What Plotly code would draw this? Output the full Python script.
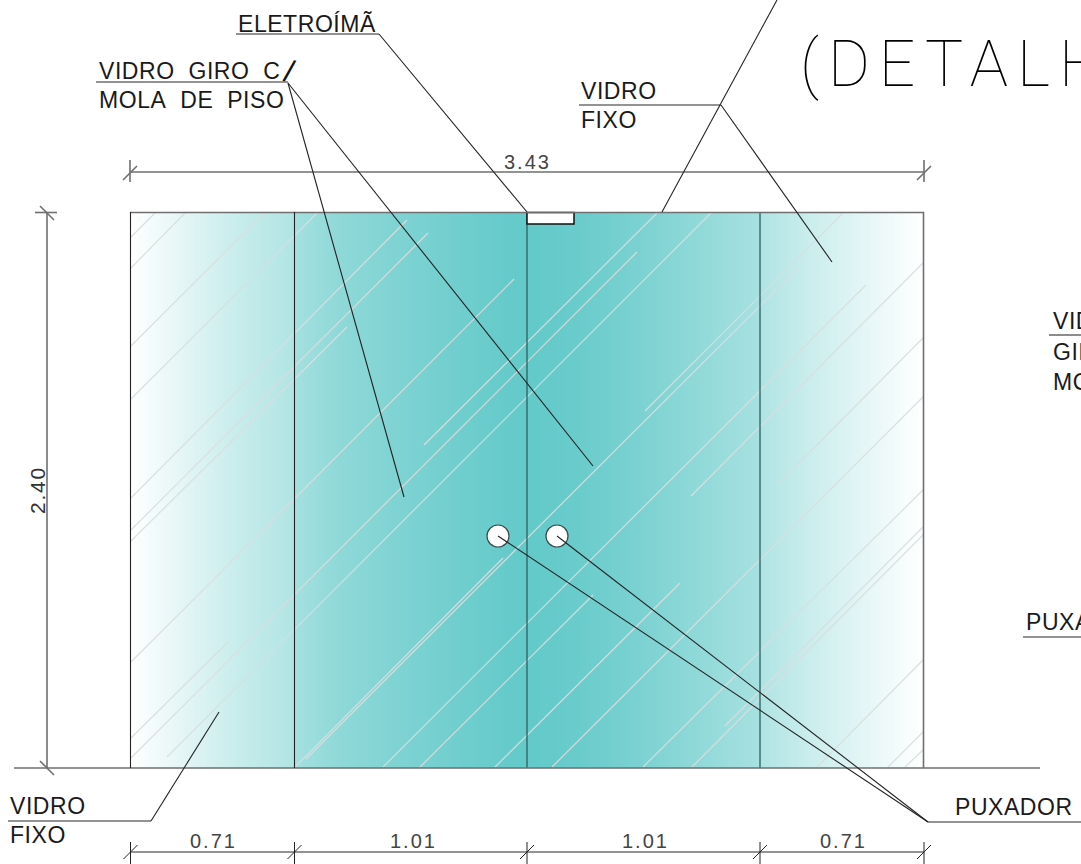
import plotly.graph_objects as go

# --- gradient of the glass (position along the elevation, tint strength)
grad_x = [129.6, 130, 150, 190, 240, 294, 295, 340, 410, 470, 527, 580, 640, 700, 759, 761, 810, 860, 900, 924, 924.4]
grad_z = [0.0, 0.0, 0.07, 0.2, 0.36, 0.5, 0.58, 0.72, 0.84, 0.93, 1.0, 0.95, 0.84, 0.7, 0.56, 0.5, 0.33, 0.18, 0.06, 0.0, 0.0]
grad_y = [212.2, 212.5, 767.5, 767.8]
GRAD_COLORS = [[0, "#ffffff"], [1, "#63c9c9"]]

# --- light hatch strokes: x0, y0, x1, y1
hatch_x0 = [131, 131, 131, 131, 131, 131, 131, 131, 131, 131, 167, 424, 295, 306, 645, 383, 420, 495, 552, 643, 725, 692, 817, 888, 905, 691, 778]
hatch_y0 = [237, 268, 346, 399, 498, 530, 541, 662, 738, 758, 757, 445, 767, 759, 411, 767, 767, 767, 767, 767, 726, 767, 767, 767, 767, 496, 484]
hatch_x1 = [155, 185, 264, 317, 407, 428, 347, 514, 228, 637, 711, 657, 503, 798, 843, 866, 593, 680, 923, 923, 923, 923, 923, 923, 923, 923, 923]
hatch_y1 = [213, 213, 213, 213, 220, 233, 327, 279, 642, 252, 213, 213, 558, 268, 213, 285, 595, 583, 397, 490, 527, 535, 660, 732, 750, 263, 338]

# --- drawing lines
gray_x0 = [130, 14, 923.5, 47, 35, 236, 96, 579, 8, 928, 1049, 1023, 130, 130, 130, 123, 917, 924, 40, 40]
gray_y0 = [212.5, 768, 212, 212, 212.5, 34, 82, 105, 821, 822, 335, 637, 172, 852, 160, 180, 180, 160, 206, 761]
gray_x1 = [924, 1040, 923.5, 47, 57, 379, 288, 721, 151, 1081, 1081, 1081, 924, 924, 130, 137, 931, 924, 54, 54]
gray_y1 = [212.5, 768, 768, 768, 212.5, 34, 82, 105, 821, 822, 335, 637, 172, 852, 182, 166, 166, 182, 220, 775]

dark_x0 = [130.5, 294.5, 379, 288, 288, 777, 721, 151, 928, 928]
dark_y0 = [212, 212, 34, 83, 83, 0, 105, 821, 822, 822]
dark_x1 = [130.5, 294.5, 527, 404, 593, 662, 832, 219, 498, 557]
dark_y1 = [768, 768, 212, 497, 466, 212, 262, 712, 536, 536]

mullion_x = [527, 760]
mullion_top = [212, 212]
mullion_bottom = [768, 768]

tick_x = [130.5, 294.5, 527, 760, 924]
tick_top = [842, 842, 842, 842, 842]
tick_bottom = [864, 864, 864, 864, 864]

magnet_x = [527, 574, 574, 527, 527]
magnet_y = [212.5, 212.5, 224, 224, 212.5]

handle_x = [498, 557]
handle_y = [536, 536]

# --- texts
label_text = ["ELETROÍMÃ", "VIDRO\u00a0\u00a0GIRO\u00a0\u00a0C", "MOLA\u00a0\u00a0DE\u00a0\u00a0PISO", "VIDRO", "FIXO",
              "VIDRO", "FIXO", "PUXADOR", "VID", "GIR", "MO", "PUXA"]
label_x = [237, 98, 98, 580, 580, 9, 9, 954, 1052, 1052, 1052, 1025]
label_y = [24, 71, 100, 91, 120, 806, 835, 807, 321, 352, 382, 622]

dim_text = ["3.43", "0.71", "1.01", "1.01", "0.71"]
dim_x = [503, 189, 389, 621, 819]
dim_y = [161.5, 841, 841, 841, 841]

title_text = "(DETALH"
FONT = "Liberation Sans"

fig = go.Figure()
z_rows = [grad_z for _ in grad_y]
fig.add_trace(go.Heatmap(x=grad_x, y=grad_y, z=z_rows, zmin=0, zmax=1, zsmooth="best",
                         colorscale=GRAD_COLORS, showscale=False, hoverinfo="skip"))


def segs(x0, y0, x1, y1):
    xs, ys = [], []
    for a, b, c, d in zip(x0, y0, x1, y1):
        xs += [a, c, None]
        ys += [b, d, None]
    return xs, ys


hx, hy = segs(hatch_x0, hatch_y0, hatch_x1, hatch_y1)
fig.add_trace(go.Scatter(x=hx, y=hy, mode="lines", line=dict(color="rgba(216,222,222,0.95)", width=1.2), hoverinfo="skip"))
mx, my = segs(mullion_x, mullion_top, mullion_x, mullion_bottom)
fig.add_trace(go.Scatter(x=mx, y=my, mode="lines", line=dict(color="#2f5f5f", width=1.3), hoverinfo="skip"))
fig.add_trace(go.Scatter(x=magnet_x, y=magnet_y, mode="lines", fill="toself", fillcolor="#ffffff",
                         line=dict(color="#111111", width=1.5), hoverinfo="skip"))
fig.add_trace(go.Scatter(x=handle_x, y=handle_y, mode="markers",
                         marker=dict(size=22, color="#ffffff", line=dict(color="#3a4a4a", width=1.2)), hoverinfo="skip"))
gx, gy = segs(gray_x0, gray_y0, gray_x1, gray_y1)
fig.add_trace(go.Scatter(x=gx, y=gy, mode="lines", line=dict(color="#6f6f6f", width=1.6), hoverinfo="skip"))
dx, dy = segs(dark_x0, dark_y0, dark_x1, dark_y1)
fig.add_trace(go.Scatter(x=dx, y=dy, mode="lines", line=dict(color="#222222", width=1.1), hoverinfo="skip"))
tx, ty = segs(tick_x, tick_top, tick_x, tick_bottom)
sx0 = [v - 7 for v in tick_x]
sx1 = [v + 7 for v in tick_x]
sy0 = [859 for _ in tick_x]
sy1 = [845 for _ in tick_x]
ax, ay = segs(sx0, sy0, sx1, sy1)
fig.add_trace(go.Scatter(x=tx + ax, y=ty + ay, mode="lines", line=dict(color="#222222", width=1.0), hoverinfo="skip"))

annos = []


def put(text, x, y, size, spacing, color, angle=0, anchor="left", family=FONT, weight=400):
    annos.append(dict(x=x, y=y, xref="x", yref="y", showarrow=False, xanchor=anchor, yanchor="middle",
                      align="left", borderpad=0, textangle=angle,
                      text=f'<span style="letter-spacing:{spacing}px;font-weight:{weight}">{text}</span>',
                      font=dict(family=family, size=size, color=color)))


for t, x, y in zip(label_text, label_x, label_y):
    put(t, x, y, 23, 0.55, "#1a1a1a")
put("/", 289.5, 71, 31, 0, "#111111", angle=14, anchor="center")
for t, x, y in zip(dim_text, dim_x, dim_y):
    put(t, x, y, 20, 2.0, "#444444")
put("2.40", 37, 490, 21, 1.8, "#333333", angle=-90, anchor="center")
put(title_text, 799, 64, 64, 9, "#000000", family="Roboto", weight=100)

fig.update_layout(width=1081, height=864, margin=dict(l=0, r=0, t=0, b=0), autosize=False, showlegend=False,
                  paper_bgcolor="#ffffff", plot_bgcolor="#ffffff", annotations=annos,
                  xaxis=dict(range=[0, 1081], visible=False, fixedrange=True),
                  yaxis=dict(range=[864, 0], visible=False, fixedrange=True))
fig.write_html("out.html", config=dict(displayModeBar=False),
               post_script="document.body.style.margin='0';")
